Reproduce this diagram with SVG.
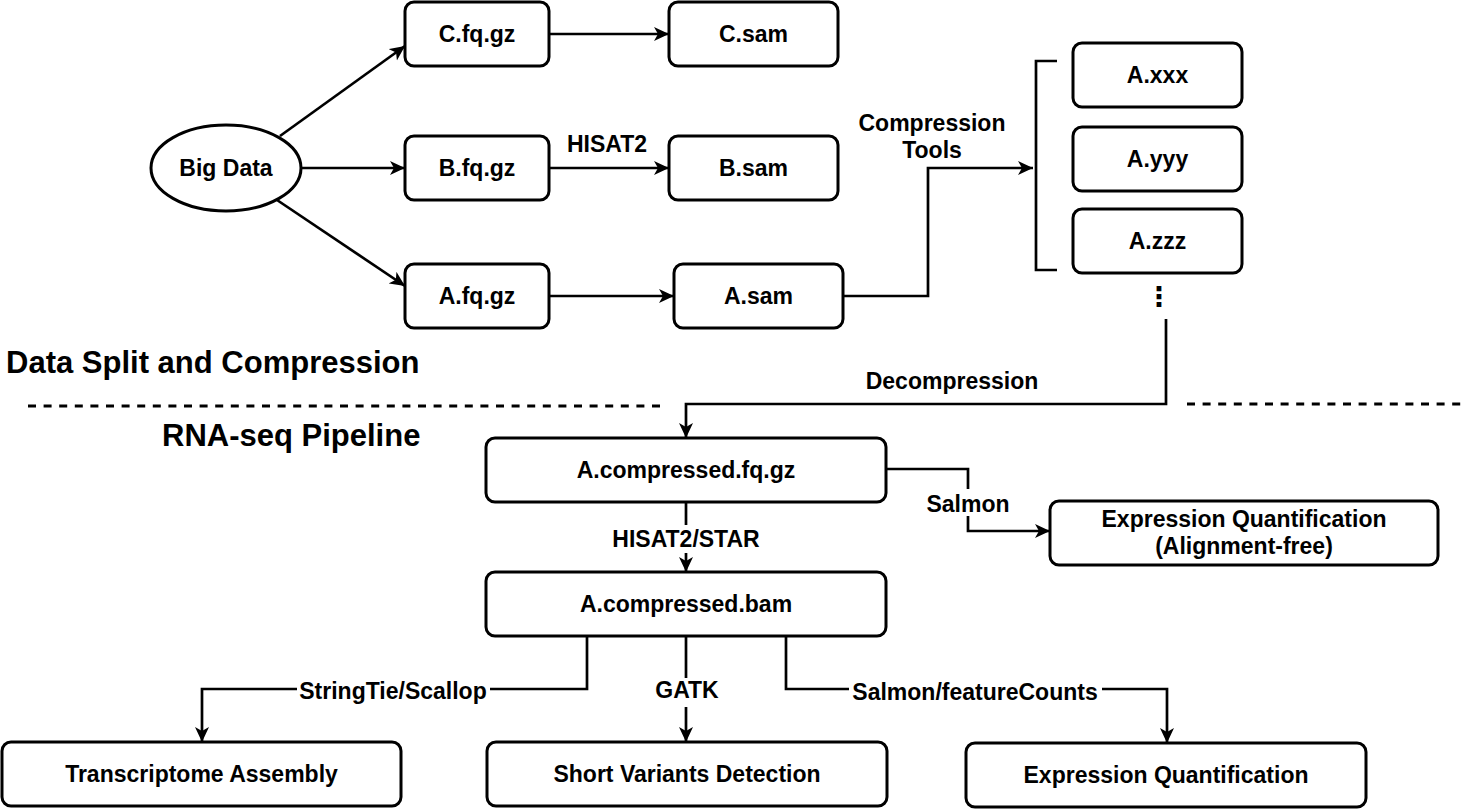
<svg xmlns="http://www.w3.org/2000/svg" width="1461" height="809" viewBox="0 0 1461 809">
<style>
  .box { fill: #fff; stroke: #000; stroke-width: 3; }
  .ln { fill: none; stroke: #000; stroke-width: 2.7; }
  .dash { fill: none; stroke: #000; stroke-width: 3; stroke-dasharray: 8 7.6; }
  text { font-family: "Liberation Sans", Arial, Helvetica, sans-serif; font-weight: bold; fill: #000; }
  .t { font-size: 23px; text-anchor: middle; }
  .h { font-size: 31px; }
  .bg { fill: #fff; }
</style>
<defs>
  <marker id="arr" markerUnits="userSpaceOnUse" markerWidth="16" markerHeight="15" refX="15" refY="7.5" orient="auto">
    <path d="M0,0.5 L15,7.5 L0,14.5 L4,7.5 Z" fill="#000"/>
  </marker>
</defs>
<rect width="1461" height="809" fill="#fff"/>

<g id="connectors">
  <path class="ln" d="M280,136 L405,46" marker-end="url(#arr)"/>
  <path class="ln" d="M301,168 L405,168" marker-end="url(#arr)"/>
  <path class="ln" d="M277,200 L405,286" marker-end="url(#arr)"/>
  <path class="ln" d="M549,34 L669,34" marker-end="url(#arr)"/>
  <path class="ln" d="M549,168 L669,168" marker-end="url(#arr)"/>
  <path class="ln" d="M549,296 L674,296" marker-end="url(#arr)"/>
  <path class="ln" d="M843,296 L928,296 L928,168 L1033,168" marker-end="url(#arr)"/>
  <path class="ln" d="M1057,61 L1036,61 L1036,270 L1057,270"/>
  <path class="ln" d="M1166,319 L1166,404 L686,404 L686,438" marker-end="url(#arr)"/>
  <path class="ln" d="M686,502 L686,572" marker-end="url(#arr)"/>
  <path class="ln" d="M886,469 L968,469 L968,531 L1050,531" marker-end="url(#arr)"/>
  <path class="ln" d="M587,636 L587,689 L202,689 L202,742" marker-end="url(#arr)"/>
  <path class="ln" d="M686,636 L686,742" marker-end="url(#arr)"/>
  <path class="ln" d="M786,636 L786,689 L1167,689 L1167,743" marker-end="url(#arr)"/>
</g>

<g id="separators">
  <path class="dash" d="M28,406 L662,406"/>
  <path class="dash" d="M1187,404 L1461,404"/>
</g>

<g id="labels">
  <text class="t" x="607" y="152">HISAT2</text>
  <text class="t" x="932" y="131">Compression</text>
  <text class="t" x="932" y="158">Tools</text>
  <text class="t" x="952" y="389">Decompression</text>
  <rect class="bg" x="608" y="525" width="156" height="28"/>
  <text class="t" x="686" y="547">HISAT2/STAR</text>
  <rect class="bg" x="925" y="489" width="87" height="27"/>
  <text class="t" x="968" y="512">Salmon</text>
  <rect class="bg" x="297" y="678" width="193" height="23"/>
  <text class="t" x="393" y="699">StringTie/Scallop</text>
  <rect class="bg" x="658" y="678" width="58" height="29"/>
  <text class="t" x="687" y="698">GATK</text>
  <rect class="bg" x="849" y="678" width="253" height="23"/>
  <text class="t" x="975" y="700">Salmon/featureCounts</text>
  <text x="1159" y="306" style="font-family: 'DejaVu Sans', sans-serif; font-size: 27px; text-anchor: middle;">⋮</text>
</g>

<g id="titles">
  <text class="h" x="6" y="373">Data Split and Compression</text>
  <text class="h" x="162" y="446">RNA-seq Pipeline</text>
</g>

<g id="node-bigdata">
  <ellipse class="box" cx="226" cy="168" rx="75" ry="43"/>
  <text class="t" x="226" y="176">Big Data</text>
</g>
<g id="node-cfq">
  <rect class="box" x="405" y="2" width="144" height="64" rx="9"/>
  <text class="t" x="477" y="42">C.fq.gz</text>
</g>
<g id="node-bfq">
  <rect class="box" x="405" y="136" width="144" height="64" rx="9"/>
  <text class="t" x="477" y="176">B.fq.gz</text>
</g>
<g id="node-afq">
  <rect class="box" x="405" y="264" width="144" height="64" rx="9"/>
  <text class="t" x="477" y="304">A.fq.gz</text>
</g>
<g id="node-csam">
  <rect class="box" x="669" y="2" width="169" height="64" rx="9"/>
  <text class="t" x="753.5" y="42">C.sam</text>
</g>
<g id="node-bsam">
  <rect class="box" x="669" y="136" width="169" height="64" rx="9"/>
  <text class="t" x="753.5" y="176">B.sam</text>
</g>
<g id="node-asam">
  <rect class="box" x="674" y="264" width="169" height="64" rx="9"/>
  <text class="t" x="758.5" y="304">A.sam</text>
</g>
<g id="node-axxx">
  <rect class="box" x="1073" y="43" width="169" height="64" rx="9"/>
  <text class="t" x="1157.5" y="83">A.xxx</text>
</g>
<g id="node-ayyy">
  <rect class="box" x="1073" y="127" width="169" height="64" rx="9"/>
  <text class="t" x="1157.5" y="167">A.yyy</text>
</g>
<g id="node-azzz">
  <rect class="box" x="1073" y="209" width="169" height="64" rx="9"/>
  <text class="t" x="1157.5" y="249">A.zzz</text>
</g>
<g id="node-acfq">
  <rect class="box" x="486" y="438" width="400" height="64" rx="9"/>
  <text class="t" x="686" y="478">A.compressed.fq.gz</text>
</g>
<g id="node-acbam">
  <rect class="box" x="486" y="572" width="400" height="64" rx="9"/>
  <text class="t" x="686" y="612">A.compressed.bam</text>
</g>
<g id="node-eqaf">
  <rect class="box" x="1050" y="501" width="388" height="64" rx="9"/>
  <text class="t" x="1244" y="527">Expression Quantification</text>
  <text class="t" x="1244" y="554">(Alignment-free)</text>
</g>
<g id="node-ta">
  <rect class="box" x="2" y="742" width="399" height="64" rx="9"/>
  <text class="t" x="201.5" y="782">Transcriptome Assembly</text>
</g>
<g id="node-svd">
  <rect class="box" x="487" y="742" width="400" height="64" rx="9"/>
  <text class="t" x="687" y="782">Short Variants Detection</text>
</g>
<g id="node-eq">
  <rect class="box" x="966" y="743" width="400" height="64" rx="9"/>
  <text class="t" x="1166" y="783">Expression Quantification</text>
</g>
</svg>
